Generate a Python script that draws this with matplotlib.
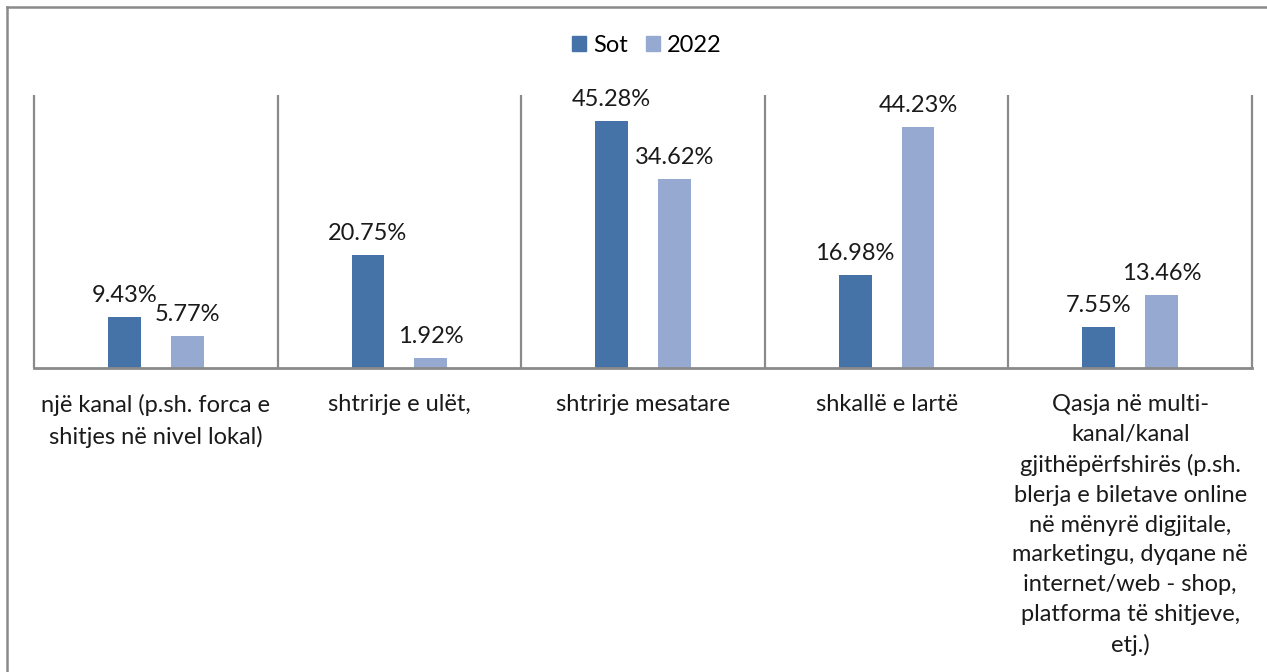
import matplotlib
matplotlib.use("Agg")
import matplotlib.pyplot as plt
from matplotlib.lines import Line2D
from matplotlib.patches import Patch
import numpy as np

categories = [
    "një kanal (p.sh. forca e\nshitjes në nivel lokal)",
    "shtrirje e ulët,",
    "shtrirje mesatare",
    "shkallë e lartë",
    "Qasja në multi-\nkanal/kanal\ngjithëpërfshirës (p.sh.\nblerja e biletave online\nnë mënyrë digjitale,\nmarketingu, dyqane në\ninternet/web - shop,\nplatforma të shitjeve,\netj.)",
]
series_names = ["Sot", "2022"]
sot = [9.43, 20.75, 45.28, 16.98, 7.55]
y2022 = [5.77, 1.92, 34.62, 44.23, 13.46]

colors = ["#4572A7", "#95A9D1"]
grid_gray = "#8a8a8a"
text_color = "#1a1a1a"
fs = 17

plt.rcParams["font.family"] = ["Lato", "DejaVu Sans"]

W, H = 1267, 672
fig = plt.figure(figsize=(W / 100, H / 100), dpi=100)

# plot area in pixel units
left, right, top, base = 34, 1252, 95, 368
ax = fig.add_axes([left / W, 1 - base / H, (right - left) / W, (base - top) / H])

x = np.arange(len(categories))
width = 0.135
offset = 0.129
b1 = ax.bar(x - offset, sot, width, color=colors[0], label=series_names[0])
b2 = ax.bar(x + offset, y2022, width, color=colors[1], label=series_names[1])

for bars, vals in ((b1, sot), (b2, y2022)):
    for rect, v in zip(bars, vals):
        ax.annotate(f"{v:.2f}%", (rect.get_x() + rect.get_width() / 2, v),
                    xytext=(0, 15), textcoords="offset pixels",
                    ha="center", va="baseline", fontsize=fs, color=text_color)

ax.set_xlim(-0.5, len(categories) - 0.5)
ax.set_ylim(0, 50)
ax.vlines(np.arange(len(categories) + 1) - 0.5, 0, 50, color=grid_gray, lw=1.6,
          clip_on=False)
for s in ("top", "right", "left"):
    ax.spines[s].set_visible(False)
ax.spines["bottom"].set_color(grid_gray)
ax.spines["bottom"].set_linewidth(2)
ax.set_yticks([])
ax.set_xticks(x)
ax.set_xticklabels(categories, fontsize=fs, color=text_color, linespacing=1.51)
ax.tick_params(axis="x", length=0, pad=19)

handles = [Patch(color=colors[0]), Patch(color=colors[1])]
fig.legend(handles, series_names, loc="center", bbox_to_anchor=(647 / W, 1 - 45 / H),
           ncol=2, frameon=False, fontsize=fs, handlelength=0.6, handleheight=0.6,
           handletextpad=0.3, columnspacing=0.75)

# outer frame (left and top edges)
fig.add_artist(Line2D([7 / W, 7 / W], [0, 1 - 7 / H], transform=fig.transFigure,
                      color=grid_gray, lw=1.8))
fig.add_artist(Line2D([7 / W, 1], [1 - 7 / H, 1 - 7 / H], transform=fig.transFigure,
                      color=grid_gray, lw=1.8))

fig.savefig("out.png", dpi=100)
